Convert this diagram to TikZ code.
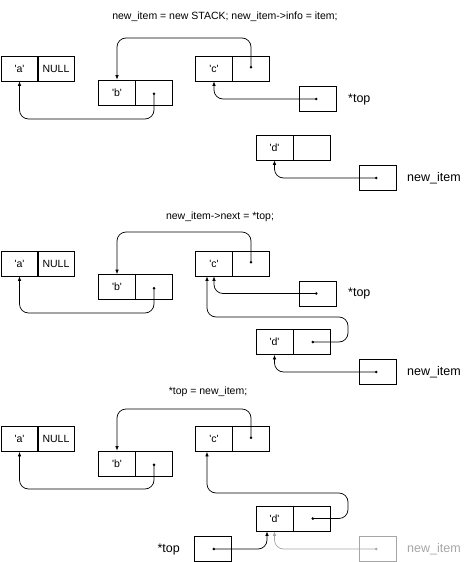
\documentclass[tikz,border=0pt]{standalone}
\usepackage{fontspec}
\setmainfont{Liberation Sans}
\usetikzlibrary{arrows.meta}
\newcommand{\val}[1]{\textquotesingle#1\textquotesingle}
\tikzstyle{cell}=[draw, line width = .7pt, minimum width = 37pt, minimum height = 25pt, inner sep = 0pt]
\tikzstyle{ptr}=[line width = .7pt, rounded corners = 9pt, {Circle[length = 2.6pt]}-{Latex[length = 4.5pt, width = 3.5pt]}]
\tikzstyle{lab}=[inner sep = 0pt]
\tikzstyle{varlab}=[inner sep = 0pt, font = \fontsize{12.5}{14}\selectfont]
\tikzstyle{old}=[text = black!35]
\begin{document}
\begin{tikzpicture}[x = 1pt, y = -1pt, font = \fontsize{10.5}{12}\selectfont]
\useasboundingbox (0,0) rectangle (474,562);
%%%%%%%%%%%%%%%%%%%%%%%
%%%%%%%%%%%%%%%%%%%%%%%
\node (t1) at (225, 17) [lab] {new\_item = new STACK; new\_item->info = item;};
\node (a1) at (19.5, 68.5) [cell] {\val{a}};
\node (a1n) at (56, 68.5) [cell] {NULL};
\node (b1) at (117, 92.5) [cell] {\val{b}};
\node (b1n) at (154, 92.5) [cell] {};
\node (c1) at (214, 68.5) [cell] {\val{c}};
\node (c1n) at (251, 68.5) [cell] {};
\node (top1) at (317.5, 99) [cell] {};
\node (toplab1) at (348, 99) [varlab, anchor = west] {*top};
\node (d1) at (274.5, 147.5) [cell] {\val{d}};
\node (d1n) at (311.5, 147.5) [cell] {};
\node (new1) at (377.5, 178) [cell] {};
\node (newlab1) at (407, 178) [varlab, anchor = west] {new\_item};
\draw [ptr] (c1n.center) -- (c1n.center |- 0,38) -| (b1.north);
\draw [ptr] (b1n.center) -- (b1n.center |- 0,119) -| (a1.south);
\draw [ptr] (top1.center) -| (c1.south);
\draw [ptr] (new1.center) -| (d1.south);
%%%%%%%%%%%%%%%%%%%%%%%
%%%%%%%%%%%%%%%%%%%%%%%
\node (t2) at (220, 217) [lab] {new\_item->next = *top;};
\node (a2) at (19.5, 263.5) [cell] {\val{a}};
\node (a2n) at (56, 263.5) [cell] {NULL};
\node (b2) at (117, 287) [cell] {\val{b}};
\node (b2n) at (154, 287) [cell] {};
\node (c2) at (214, 263.5) [cell] {\val{c}};
\node (c2n) at (251, 263.5) [cell] {};
\node (top2) at (317.5, 293.5) [cell] {};
\node (toplab2) at (348, 293.5) [varlab, anchor = west] {*top};
\node (d2) at (274.5, 342) [cell] {\val{d}};
\node (d2n) at (311.5, 342) [cell] {};
\node (new2) at (377.5, 372) [cell] {};
\node (newlab2) at (407, 372) [varlab, anchor = west] {new\_item};
\draw [ptr] (c2n.center) -- (c2n.center |- 0,232) -| (b2.north);
\draw [ptr] (b2n.center) -- (b2n.center |- 0,313) -| (a2.south);
\draw [ptr] (top2.center) -| (c2.south);
\draw [ptr] (d2n.center) -| (348, 317) -| ([xshift = -7pt]c2.south);
\draw [ptr] (new2.center) -| (d2.south);
%%%%%%%%%%%%%%%%%%%%%%%
%%%%%%%%%%%%%%%%%%%%%%%
\node (t3) at (208, 392) [lab] {*top = new\_item;};
\node (a3) at (19.5, 439) [cell] {\val{a}};
\node (a3n) at (56, 439) [cell] {NULL};
\node (b3) at (117, 463.5) [cell] {\val{b}};
\node (b3n) at (154, 463.5) [cell] {};
\node (c3) at (214, 439) [cell] {\val{c}};
\node (c3n) at (251, 439) [cell] {};
\node (d3) at (274.5, 518.5) [cell] {\val{d}};
\node (d3n) at (311.5, 518.5) [cell] {};
\node (top3) at (212.5, 549) [cell] {};
\node (toplab3) at (180, 549) [varlab, anchor = east] {*top};
\node (new3) at (377.5, 549) [cell, draw = black!35] {};
\node (newlab3) at (407, 549) [varlab, old, anchor = west] {new\_item};
\draw [ptr] (c3n.center) -- (c3n.center |- 0,409) -| (b3.north);
\draw [ptr] (b3n.center) -- (b3n.center |- 0,489) -| (a3.south);
\draw [ptr] (d3n.center) -| (348, 493) -| ([xshift = -7pt]c3.south);
\draw [ptr] (top3.center) -| ([xshift = -7.5pt]d3.south);
\draw [ptr, black!35] (new3.center) -| (d3.south);
\end{tikzpicture}
\end{document}
